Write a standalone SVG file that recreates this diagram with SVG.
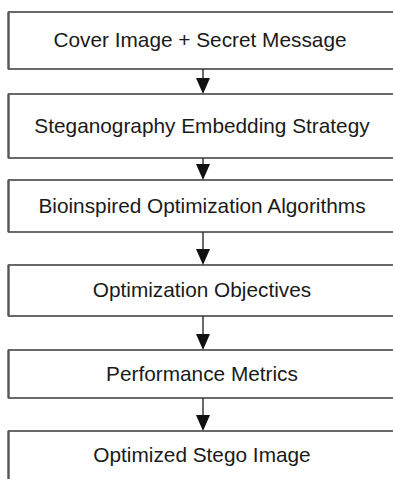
<svg xmlns="http://www.w3.org/2000/svg" width="393" height="479" viewBox="0 0 393 479">
<defs>
<style>
.box{fill:#fff;stroke:#2b2b2b;stroke-width:1.4}
.edge{stroke:#555;stroke-width:2.2;fill:none}
.lbl{font-family:"Liberation Sans",Arial,sans-serif;font-size:20.8px;fill:#1a1a1a;text-anchor:middle}
.con{stroke:#1a1a1a;stroke-width:1.3;fill:none}
.head{fill:#111}
</style>
</defs>
<rect width="393" height="479" fill="#fff"/>
<g id="connectors">
<line class="con" x1="203" y1="69" x2="203" y2="80"/>
<path class="head" d="M196,78 L210,78 L203,94 Z"/>
<line class="con" x1="203" y1="158" x2="203" y2="166"/>
<path class="head" d="M196,164 L210,164 L203,180 Z"/>
<line class="con" x1="203" y1="232" x2="203" y2="251"/>
<path class="head" d="M196,249 L210,249 L203,265 Z"/>
<line class="con" x1="203" y1="316" x2="203" y2="336"/>
<path class="head" d="M196,334 L210,334 L203,350 Z"/>
<line class="con" x1="203" y1="398" x2="203" y2="417"/>
<path class="head" d="M196,415 L210,415 L203,431 Z"/>
</g>
<g id="n1"><rect class="box" x="8.5" y="12" width="390" height="57"/><line class="edge" x1="8.5" y1="12" x2="8.5" y2="69"/><text class="lbl" x="200" y="47">Cover Image + Secret Message</text></g>
<g id="n2"><rect class="box" x="8.5" y="94" width="390" height="64"/><line class="edge" x1="8.5" y1="94" x2="8.5" y2="158"/><text class="lbl" x="202" y="133">Steganography Embedding Strategy</text></g>
<g id="n3"><rect class="box" x="8.5" y="180" width="390" height="52"/><line class="edge" x1="8.5" y1="180" x2="8.5" y2="232"/><text class="lbl" x="202" y="213">Bioinspired Optimization Algorithms</text></g>
<g id="n4"><rect class="box" x="8.5" y="265" width="390" height="51"/><line class="edge" x1="8.5" y1="265" x2="8.5" y2="316"/><text class="lbl" x="202" y="297">Optimization Objectives</text></g>
<g id="n5"><rect class="box" x="8.5" y="350" width="390" height="48"/><line class="edge" x1="8.5" y1="350" x2="8.5" y2="398"/><text class="lbl" x="202" y="381">Performance Metrics</text></g>
<g id="n6"><rect class="box" x="8.5" y="431" width="390" height="60"/><line class="edge" x1="8.5" y1="431" x2="8.5" y2="479"/><text class="lbl" x="202" y="462">Optimized Stego Image</text></g>
</svg>
